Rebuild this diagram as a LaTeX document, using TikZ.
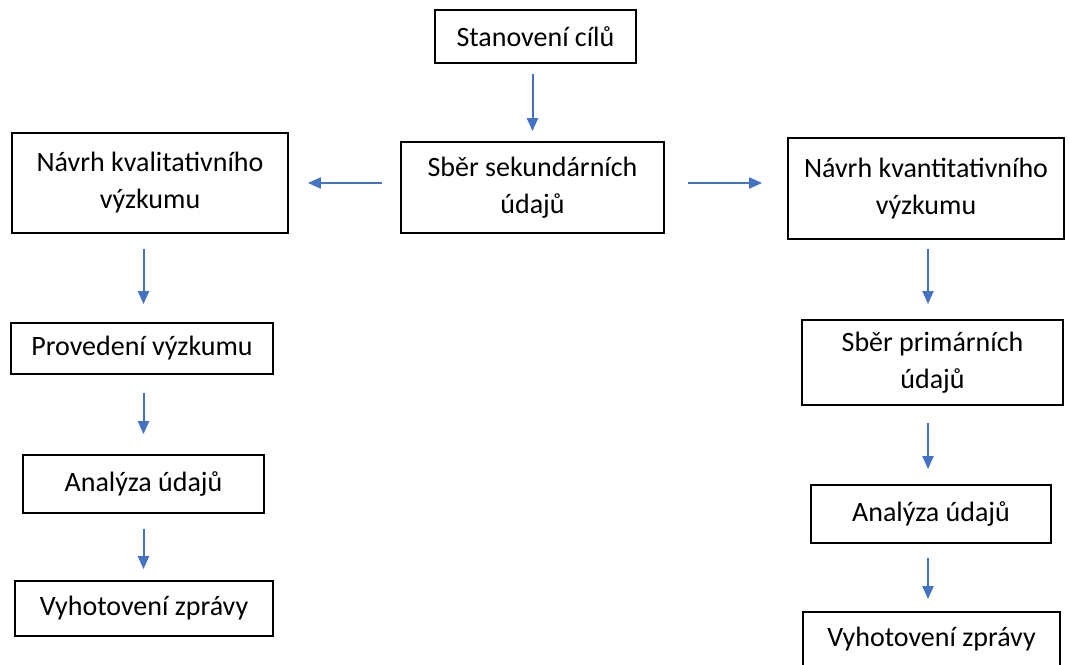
\documentclass[tikz,border=0pt]{standalone}
\usepackage{fontspec}
\setmainfont{Carlito}
\usetikzlibrary{arrows.meta}
\definecolor{arrowblue}{HTML}{4472C4}
\begin{document}
\begin{tikzpicture}[x=0.5pt, y=-0.5pt, font=\fontsize{14}{18.5}\selectfont,
	box/.style={draw=black, line width=0.9pt, inner sep=0pt, align=center},
	arr/.style={draw=arrowblue, line width=1pt, -{Triangle[length=6.5pt,width=5.5pt]}}]
	\useasboundingbox (0,0) rectangle (1069,664);
	%middle
	\node[box, minimum width=100.5pt, minimum height=26.5pt] (cile) at (535.5,36.5) {Stanovení cílů};
	\node[box, minimum width=131.5pt, minimum height=45.5pt] (sekund) at (532.5,187.5) {Sběr sekundárních\\údajů};
	%left column
	\node[box, minimum width=138pt, minimum height=50pt] (kval) at (150,183) {Návrh kvalitativního\\výzkumu};
	\node[box, minimum width=131pt, minimum height=25.5pt] (proved) at (142,348.5) {Provedení výzkumu};
	\node[box, minimum width=120.5pt, minimum height=29pt] (analL) at (143.5,484) {Analýza údajů};
	\node[box, minimum width=129pt, minimum height=27.5pt] (zpravL) at (144,608.5) {Vyhotovení zprávy};
	%right column
	\node[box, minimum width=138pt, minimum height=50.5pt] (kvant) at (926,188.5) {Návrh kvantitativního\\výzkumu};
	\node[box, minimum width=130.5pt, minimum height=42.5pt] (primar) at (932.5,362.5) {Sběr primárních\\údajů};
	\node[box, minimum width=120pt, minimum height=29pt] (analR) at (931,514) {Analýza údajů};
	\node[box, minimum width=128.5pt, minimum height=27pt] (zpravR) at (931.5,639) {Vyhotovení zprávy};
	%arrows
	\draw[arr, shorten <=5pt, shorten >=5pt] (cile.south -| sekund) -- (sekund.north);
	\draw[arr, shorten <=9pt, shorten >=9.5pt] (sekund.west |- kval) -- (kval.east);
	\draw[arr, shorten <=11.5pt, shorten >=12.5pt] (sekund.east |- kval) -- (kvant.west |- kval);
	\draw[arr, shorten <=7.5pt, shorten >=9pt] (kval.south -| analL) -- (proved.north -| analL);
	\draw[arr, shorten <=9pt, shorten >=10pt] (proved.south -| analL) -- (analL.north);
	\draw[arr, shorten <=7.5pt, shorten >=5.5pt] (analL.south) -- (zpravL.north -| analL);
	\draw[arr, shorten <=4.5pt, shorten >=7.5pt] (kvant.south -| 928,0) -- (primar.north -| 928,0);
	\draw[arr, shorten <=8.5pt, shorten >=7.5pt] (primar.south -| 928,0) -- (analR.north -| 928,0);
	\draw[arr, shorten <=7pt, shorten >=6pt] (analR.south -| 928,0) -- (zpravR.north -| 928,0);
\end{tikzpicture}
\end{document}
